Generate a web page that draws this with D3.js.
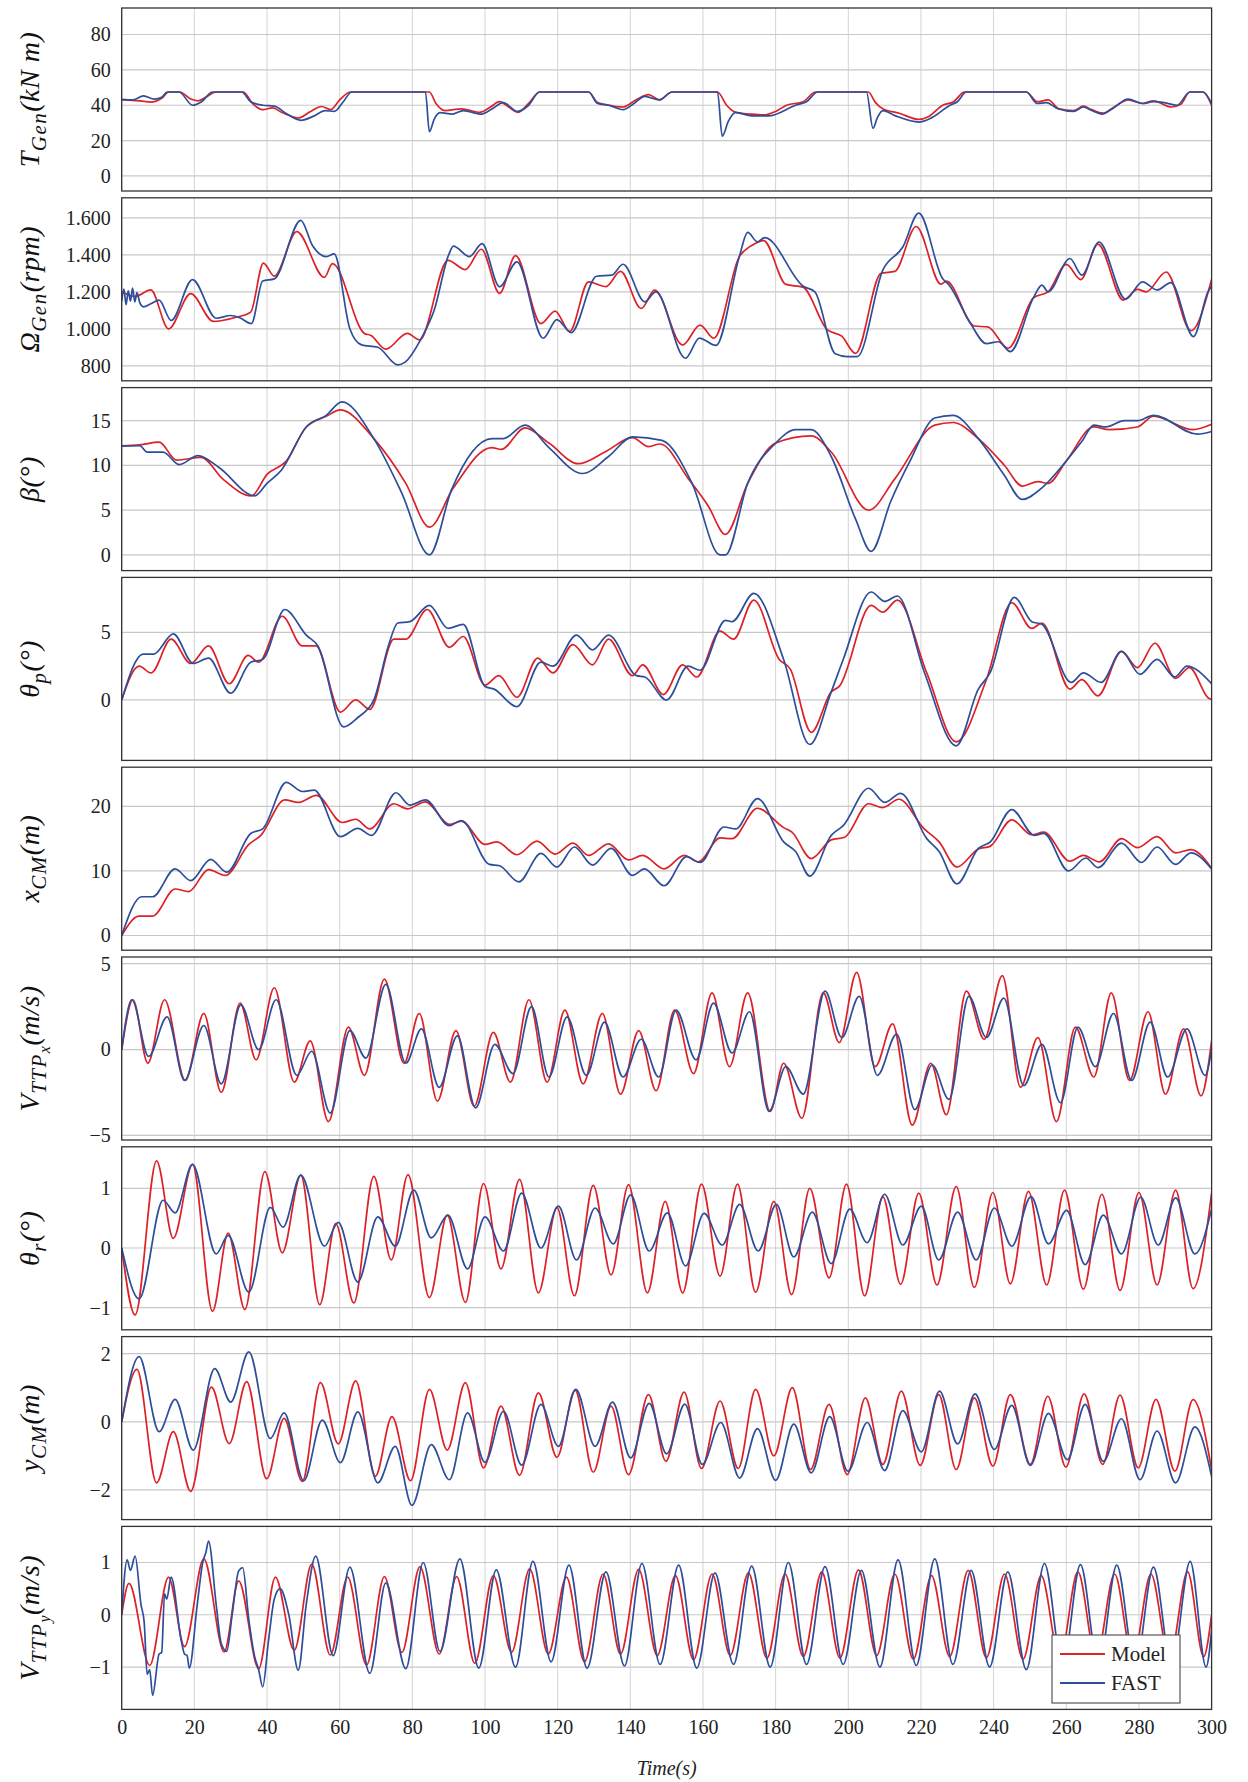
<!DOCTYPE html>
<html>
<head>
<meta charset="utf-8">
<script src="https://cdn.jsdelivr.net/npm/d3@7"></script>
<style>
  body { margin: 0; background: #fff; }
  svg { display: block; }
</style>
</head>
<body>
<div id="container"></div>
<script>
/**
 * CONSTANTS AND GLOBALS
 * */
const width = 1248,
  height = 1782,
  margin = { left: 121.7, right: 36.4 },
  panelTop0 = 8,
  panelStep = 189.8,
  panelHeight = 183;

const RED = "#dc2228",
  BLUE = "#2d4e9b";

const timeTicks = d3.range(0, 301, 20);

/**
 * DATA  ([time s, value] pairs)
 * */
const tgenModel = [[0,43],[3,42.8],[5,42.5],[8,41.8],[11,44],[13,47.5],[16,47.5],[19,43.5],[21,42.5],[23.5,45],[26,47.5],[33.5,47.5],[36,41],[38.8,37.5],[41.5,38.5],[44,36],[48.6,32.8],[52,36.5],[55,39.3],[57.5,37.5],[60,43],[63,47.5],[84.7,47.5],[86.5,41],[89,37],[93.5,38],[98.5,36],[101.5,39],[104,42],[106.5,39],[109,36],[112,41],[115,47.5],[128.5,47.5],[131,41.5],[133,40.5],[138,39],[141.5,43],[145,46],[148,43],[151.5,47.5],[164,47.5],[166.5,40],[169,36],[173,35],[176.7,34.5],[180,36.5],[183,40],[187.6,42],[191,47.5],[205.5,47.5],[207.5,41.5],[209.5,38],[214,35.5],[219.4,32],[222,33.5],[226,40],[229,42],[232,47.5],[249,47.5],[252,42],[255,43],[258,38],[262,37],[264.7,39.5],[267,37.5],[270,35.5],[273.5,39.5],[277,43],[281,41],[284,42.5],[289,39],[291.5,40.5],[294,47.5],[297.6,47.5],[300,40]];
const tgenFast = [[0,43.4],[3,43],[6,45.3],[9,43.5],[11,44.5],[12.5,47.5],[15.8,47.5],[19.5,40],[22,42],[25,47.5],[33,47.5],[35.5,42],[38.8,40],[42,39.5],[45.5,35],[49.3,31.5],[53,34],[56,37],[58.5,36.5],[61,42],[63.3,47.5],[83.6,47.5],[84.7,25],[86,32],[87.6,35.8],[91,35],[94,37],[99,35],[102,38],[105,41.5],[109,36.5],[112,40],[115,47.5],[128.5,47.5],[131,41],[134,40],[138,37.5],[141,41],[144,45],[148,43],[151.5,47.5],[164,47.5],[165.3,22.5],[167,31],[169,36],[173.4,34],[178,34],[185.5,40],[188.5,42],[191.6,47.5],[205,47.5],[206.8,27],[208,33],[209.5,37],[213,34],[219.4,30.5],[223,33],[228,40],[230,42],[232.5,47.5],[249,47.5],[252,41],[254.5,41.5],[257.7,38],[262,36.5],[264.7,39],[267,37],[269.8,35],[273,38.5],[277,43.5],[281,41],[284,42],[287,41.5],[290.5,40],[294,47.5],[297.6,47.5],[300,41]];

const omegaModel = [[0,1200],[3.7,1175],[8,1210],[12.9,1000],[19,1190],[25.2,1040],[31,1060],[35.5,1090],[39,1355],[42,1285],[48.2,1525],[55.8,1278],[58,1352],[66.8,975],[68.5,965],[72.7,890],[78.6,975],[82,940],[89.8,1370],[94.6,1320],[99,1430],[104,1192],[108.4,1396],[115.4,1028],[119.3,1096],[123.3,986],[128.5,1254],[133.3,1228],[137.3,1310],[143,1110],[146.7,1209],[154.4,913],[159.2,1020],[163,949],[170,1390],[173.4,1450],[176.7,1477],[182.8,1240],[187.5,1225],[194.2,995],[198.2,960],[202,867],[209,1300],[212.8,1310],[218.7,1553],[225.5,1241],[227,1258],[234.7,1015],[238.4,1010],[244,895],[251,1168],[255,1200],[260,1348],[264,1266],[268.7,1458],[275.7,1155],[279.6,1213],[282,1200],[287.5,1307],[294.3,990],[300,1266]];
const omegaFast = [[0,1150],[0.6,1215],[1.2,1130],[1.8,1205],[2.4,1150],[3,1220],[3.6,1145],[4.2,1195],[5,1140],[6,1119],[8,1135],[10.3,1155],[13.6,1045],[19.5,1266],[26,1057],[30,1072],[32.5,1060],[35.7,1028],[38.8,1258],[42,1270],[49.3,1586],[52.5,1450],[56.3,1390],[58.5,1405],[62.8,1000],[66,913],[70.5,900],[76,805],[78,820],[82.5,950],[86,1100],[90,1400],[91.3,1447],[95.7,1390],[99.2,1460],[104,1227],[108.8,1362],[116,949],[119.8,1050],[123.7,979],[130.7,1284],[134.9,1290],[138,1349],[144,1146],[147,1200],[155.2,841],[159,950],[163.6,910],[170,1390],[172.3,1521],[175,1470],[177,1493],[187.6,1230],[190.8,1200],[196.4,865],[199.7,850],[202.5,850],[209.5,1317],[215,1442],[219.4,1625],[226,1270],[227.6,1240],[233.6,1030],[238,920],[241.3,930],[244.6,877],[251,1170],[253.3,1236],[255,1200],[261,1380],[264.3,1290],[269,1469],[276.3,1160],[281,1254],[285,1210],[288.8,1250],[295,958],[299,1200],[300,1230]];

const betaModel = [[0,12.2],[5,12.3],[10.3,12.6],[15.1,10.6],[21.9,10.9],[27.8,8.5],[35.7,6.6],[40,9],[45.3,10.5],[50.8,14.3],[56.3,15.5],[60.2,16.2],[69.4,13],[78.2,8],[84.7,3.1],[91.3,7.5],[101.8,12],[104.5,11.8],[111,14.2],[117.6,12.5],[125.7,10.2],[133,11.5],[140.6,13.1],[145,12.1],[148.2,12.4],[156,8.5],[161.4,5.5],[166.2,2.3],[172.3,8],[180,12.5],[189.8,13.3],[195.3,11.5],[205.6,5],[212.8,8.5],[223.8,14.5],[228.8,14.8],[235.8,13],[243,10],[247.9,7.7],[252.2,8.2],[255,8],[260,10.5],[267.6,14.3],[271.9,14],[279.6,14.3],[284,15.5],[294.9,14],[300,14.6]];
const betaFast = [[0,12.15],[5,12.2],[7,11.5],[11.4,11.5],[15.8,10.1],[21,11.1],[26.7,9.8],[36.6,6.6],[40,8],[44,9.5],[50.8,14.3],[56.3,15.6],[60.6,17.1],[69.4,13],[77,7],[84.7,0],[90.8,7.3],[102,13],[105,13],[111,14.5],[117.6,12],[126.8,9.1],[134,11],[140.6,13.2],[148.7,12.8],[157,8],[164.7,0],[166.2,0],[172.3,8],[180,12.5],[185.5,14],[189.8,14],[195.3,11],[202,4],[206.3,0.4],[211.7,6],[217,10.5],[223.8,15.3],[228.8,15.6],[235.8,13],[242.8,9],[247.9,6.2],[253.3,7.5],[260,10.5],[264.3,12.7],[267.6,14.5],[270.9,14.3],[276,15],[279.6,15],[284,15.6],[296.1,13.5],[300,13.8]];

const pitchModel = [[0,0],[4.8,2.5],[8.1,2],[13.6,4.5],[19,2.7],[23.9,4],[29.6,1.2],[34.8,3.3],[37.7,2.8],[44.2,6.2],[49.7,4],[53.5,4],[60.2,-0.9],[64.4,0],[68.3,-0.7],[74.9,4.5],[78.2,4.5],[84.1,6.7],[90.2,3.9],[94,4.7],[100,1.1],[103.8,1.8],[108.8,0.2],[114.5,3.1],[118.7,2],[124.2,4.1],[129.6,2.6],[134,4.5],[140.6,1.8],[143.4,2.6],[149.1,0.4],[154.4,2.6],[158.3,1.7],[164.7,5.1],[168.4,4.5],[174,7.4],[181,3],[184,2.3],[189.8,-2.4],[195.3,0.6],[197.5,1],[206.3,7],[209.5,6.5],[213.5,7.4],[221.6,2],[229.7,-3.1],[238,1.5],[245,7.2],[250.5,5.3],[253.3,5.7],[261,0.8],[264.3,1.5],[268.7,0.3],[275.2,3.6],[279.6,2.4],[284.4,4.2],[290.1,1.6],[293.9,2.4],[299.3,0.1],[300,0.05]];
const pitchFast = [[0,0],[5.9,3.4],[8.8,3.4],[14.2,4.9],[19.7,2.7],[23.9,3.1],[30,0.5],[35.5,2.8],[38.8,3],[44.9,6.7],[50.8,4.8],[54,4],[61.1,-2],[65,-1.3],[69.4,0],[73.4,4],[76,5.7],[79.3,5.8],[84.7,7],[89.8,5.3],[94,5.6],[100,1],[102.5,0.8],[108.8,-0.5],[115.4,2.8],[118.7,2.5],[125.2,4.8],[129.6,3.7],[134,4.8],[141.7,1.8],[144,1.7],[150,0],[155.9,2.5],[159.2,2.2],[166.2,5.9],[168,5.8],[174,7.9],[182.2,3],[189.4,-3.3],[195.3,0.6],[198.6,3],[206.3,8],[210,7.3],[213.5,7.7],[221,2],[229.7,-3.4],[235.8,0.8],[239,2],[245.7,7.6],[250.5,5.8],[253.3,5.6],[261.4,1.3],[264.7,2],[269.6,1.3],[275.2,3.6],[280.3,1.9],[285,3],[289.9,1.7],[293.2,2.5],[300,1.2]];

const xcmModel = [[0,0],[4.8,3],[8.5,3],[14.7,7.2],[18.4,6.8],[23.9,10.2],[28.5,9.3],[35,14.1],[38.3,15.5],[44.9,21],[48.6,20.6],[53.6,21.7],[60.7,17.5],[64.4,18],[68.3,16.5],[74.9,20.4],[78.6,19.6],[83.6,20.7],[90.2,17.2],[93.5,17.7],[100,14.1],[103.3,14.5],[108.8,12.5],[114.3,14.6],[119.3,12.6],[124.2,14.3],[128.5,12.4],[134,14.2],[139.5,11.7],[143.4,12.4],[149.3,10.3],[154.8,12.4],[158.7,11.4],[164.7,15.1],[168,15],[175,19.7],[182.2,16.7],[184.5,16],[189.8,11.9],[195.3,14.8],[199,15.2],[205.6,20.4],[209.5,19.8],[213.9,21.1],[220.9,16.5],[225,14.5],[229.9,10.6],[235.8,13.4],[239,13.8],[245,17.9],[250.5,15.6],[253.8,16],[261,11.5],[264.7,12.4],[269.1,11.4],[275.2,15],[279.6,13.6],[285,15.3],[290.1,12.8],[294.3,13.3],[300,10.4]];
const xcmFast = [[0,0],[5.5,6],[8.5,6],[14.7,10.3],[19,8.5],[24.5,11.8],[28.9,9.8],[35.5,15.8],[38.8,16.5],[45.3,23.7],[49.7,22.3],[53,22.5],[60.2,15.3],[65,16.6],[68.8,15.5],[75.5,22.1],[79.3,20.2],[83.6,21],[90.2,17],[93.5,17.8],[101.2,11],[104,10.8],[109.3,8.3],[115.4,12.7],[119.8,10.6],[124.6,13.7],[129.6,10.9],[134.7,13.5],[140.6,9.3],[143.9,10.3],[149.3,7.7],[155.5,12.2],[159.2,11.3],[165.8,16.8],[169,16.5],[175,21.2],[182.2,14.5],[185.5,13],[189.4,9.2],[195.3,15.5],[198.6,17],[205.6,22.8],[210,20.6],[214.4,22],[221.6,15],[225,13],[229.9,8],[235.8,13.5],[239.1,14.5],[245,19.5],[251.2,15.5],[253.8,15.8],[260.6,10],[265.4,12],[268.7,10.5],[275.2,14.3],[280.7,11.3],[285,13.7],[290.1,11],[294.3,12.8],[300,10.3]];

const vxModel = [[0,0],[3.1,2.9],[7.2,-0.8],[11.8,2.9],[17.5,-1.8],[22.6,2.1],[27.4,-2.5],[32.6,2.7],[37,-0.6],[42,3.6],[47.5,-1.9],[51.9,0.5],[56.9,-4.2],[62.4,1.3],[66.8,-1.5],[72.3,4.1],[77.7,-0.8],[81.9,2.1],[86.9,-3],[92,1.1],[97,-3.3],[102.3,1],[107,-1.9],[112.1,2.9],[117.1,-1.9],[122,2.3],[127,-2],[132.3,2.1],[137.3,-2.6],[142.3,1.1],[147.1,-2.4],[152.2,2.3],[157.4,-1.4],[162.5,3.3],[167.3,-1],[172.3,3.3],[178.5,-3.6],[182.2,-0.8],[187.2,-4],[193.1,3.3],[197.5,0.4],[202.3,4.5],[207.4,-1],[212.2,1.5],[217.6,-4.4],[222.7,-0.8],[227,-3.8],[232.5,3.4],[237.4,0.6],[242.4,4.3],[247.4,-2.2],[252.2,0.7],[257.3,-4.2],[262.5,1.3],[267.6,-1.6],[272.4,3.3],[277.4,-1.8],[282.5,2.2],[287.3,-2.6],[292.3,1.2],[297.1,-2.7],[300,0.5]];
const vxFast = [[0,0],[2.8,2.9],[7.4,-0.4],[12.5,1.9],[17.3,-1.8],[22.6,1.4],[27.4,-2],[32.8,2.6],[37.7,0],[42.5,2.9],[48.2,-1.5],[52.3,-0.1],[57.4,-3.7],[62.8,1.1],[67.2,-0.5],[72.7,3.8],[78.2,-0.8],[82.5,1.2],[87.4,-2.2],[92.4,0.8],[97.4,-3.4],[102.7,0.3],[107.7,-1.4],[112.8,2.5],[117.6,-1.6],[122.6,1.9],[127.9,-1.5],[132.9,1.6],[138,-1.6],[143,0.6],[147.8,-1.6],[152.6,2.3],[158.1,-0.6],[162.9,2.7],[168,-0.2],[172.8,2.2],[178.2,-3.6],[182.8,-1],[187.6,-2.6],[193.6,3.4],[198.2,0.7],[203,3.1],[208,-1.5],[213.3,0.9],[218.3,-3.5],[223.1,-0.9],[227.7,-2.9],[233.2,3.1],[238,0.7],[242.8,3],[248.3,-2.1],[253.3,0.3],[258.4,-3.1],[263.2,1.3],[268,-1],[273,2.1],[278,-1.8],[283.1,1.6],[287.9,-1.6],[293.2,1.2],[298.2,-1.5],[300,0]];

const rollModel = [[0,0],[3.7,-1.12],[9.6,1.46],[14.2,0.16],[19.5,1.4],[25,-1.06],[29.3,0.25],[33.9,-1.03],[39.4,1.28],[44.2,-0.08],[49.3,1.22],[54.5,-0.95],[58.9,0.41],[63.9,-0.92],[69.4,1.2],[74.2,-0.2],[78.8,1.23],[84.7,-0.83],[89.6,0.55],[94.6,-0.91],[99.6,1.08],[104.4,-0.35],[109.5,1.15],[114.7,-0.75],[119.8,0.68],[124.6,-0.8],[129.8,1.05],[134.7,-0.45],[139.5,1.06],[144.7,-0.75],[149.6,0.78],[154.4,-0.75],[159.6,1.07],[164.7,-0.47],[169.5,1.07],[174.5,-0.74],[179.5,0.78],[184.4,-0.78],[189.4,1.0],[194.7,-0.5],[199.5,1.07],[204.5,-0.8],[209.5,0.86],[214.4,-0.61],[219.4,0.92],[224.4,-0.62],[229.7,1.03],[234.7,-0.66],[239.8,0.93],[244.6,-0.6],[249.6,0.95],[254.6,-0.62],[259.5,0.97],[264.7,-0.69],[269.8,0.9],[274.8,-0.71],[280,0.93],[285,-0.62],[290.1,0.97],[294.9,-0.68],[300,0.92]];
const rollFast = [[0,0],[4.8,-0.85],[11.4,0.8],[14.7,0.59],[19.5,1.4],[26,-0.1],[29.3,0.21],[35,-0.74],[40.9,0.68],[44.4,0.35],[49.3,1.22],[55.8,0.03],[59.6,0.43],[65,-0.57],[70.5,0.52],[75.3,0.03],[80.4,0.97],[85.2,0.17],[89.8,0.55],[95.2,-0.35],[100,0.52],[105.1,-0.05],[110.1,0.92],[115.4,0],[120.2,0.7],[125.2,-0.2],[130.3,0.67],[135.3,0.07],[140.1,0.89],[145.2,-0.05],[150.2,0.59],[155.2,-0.3],[160.3,0.58],[165.3,0.05],[170.1,0.73],[175.2,-0.05],[180.2,0.73],[185,-0.15],[190.1,0.6],[195.3,-0.26],[200.4,0.65],[205.2,0.09],[210,0.9],[215,0.05],[220.1,0.7],[224.9,-0.2],[230.1,0.6],[235.2,-0.2],[240.2,0.67],[245,0.03],[250.3,0.86],[255.1,0.07],[260.1,0.63],[265.2,-0.28],[270.2,0.55],[275.2,-0.1],[280.5,0.85],[285.3,0.05],[290.1,0.84],[295.4,-0.1],[300,0.65]];

const ycmModel = [[0,0],[4.2,1.54],[9.6,-1.79],[14.2,-0.29],[19,-2.04],[24.7,1.02],[29.6,-0.64],[34.4,1.18],[39.9,-1.67],[44.7,0.1],[49.7,-1.75],[54.7,1.15],[59.6,-0.65],[64.4,1.2],[69.8,-1.6],[74.4,0.15],[79.5,-1.73],[84.7,0.95],[89.6,-0.83],[94.6,1.15],[99.6,-1.35],[104.4,0.46],[109.5,-1.57],[114.7,0.85],[119.8,-1.04],[124.8,0.93],[129.8,-1.48],[134.7,0.46],[139.5,-1.55],[145,0.8],[149.8,-1.16],[154.8,0.87],[159.6,-1.37],[164.7,0.61],[169.7,-1.37],[174.5,0.95],[179.5,-1.0],[184.6,1.0],[189.6,-1.4],[194.7,0.51],[199.7,-1.55],[204.7,0.7],[209.5,-1.25],[214.6,0.9],[219.8,-1.28],[224.9,0.8],[229.7,-1.4],[234.7,0.7],[239.8,-1.3],[244.6,0.8],[250.1,-1.25],[254.9,0.75],[259.9,-1.33],[264.9,0.82],[270,-1.25],[274.8,0.78],[279.8,-1.35],[284.7,0.66],[289.9,-1.45],[294.9,0.65],[300,-1.4]];
const ycmFast = [[0,0],[4.8,1.91],[10.3,-0.29],[14.7,0.66],[19.7,-0.83],[25.6,1.56],[30,0.58],[35,2.05],[40.9,-0.49],[44.7,0.26],[50.1,-1.73],[55.2,0.05],[60.2,-1.2],[65,0.29],[70.5,-1.79],[75.3,-0.72],[79.9,-2.45],[85.2,-0.67],[90.2,-1.7],[95.2,0.26],[100,-1.19],[105.1,0.31],[110.1,-1.27],[115.4,0.51],[120.2,-0.72],[125,0.95],[130.3,-0.72],[135.1,0.58],[140.1,-1.06],[145.2,0.54],[150,-0.94],[155,0.52],[159.8,-1.25],[164.9,-0.02],[170.1,-1.65],[175,-0.2],[180,-1.72],[185,-0.07],[189.8,-1.5],[194.9,0.15],[199.9,-1.45],[205.2,-0.02],[210,-1.43],[215,0.33],[220.1,-0.88],[225.1,0.9],[230.1,-0.65],[234.9,0.82],[240.2,-0.81],[245,0.48],[250.1,-1.28],[255.1,0.25],[260.3,-1.11],[265.2,0.51],[270.2,-1.16],[275.2,0.09],[280.3,-1.7],[285,-0.27],[290.1,-1.79],[295.4,-0.15],[300,-1.6]];

const vyModel = [[0,0],[2,0.6],[7.7,-0.97],[12.9,0.72],[17.3,-0.61],[22.6,1.07],[28.2,-0.71],[32.2,0.65],[37.7,-1.03],[42.3,0.72],[47.5,-0.68],[52.3,0.97],[57.4,-0.77],[62.2,0.72],[67.4,-0.96],[72.3,0.73],[77.1,-0.72],[82.1,0.92],[87.4,-0.75],[92.2,0.73],[97.2,-0.93],[102.3,0.75],[107.3,-0.72],[112.3,0.88],[117.4,-0.75],[122.4,0.72],[127.4,-0.9],[132.5,0.78],[137.3,-0.75],[142.3,0.87],[147.4,-0.78],[152.4,0.75],[157.4,-0.86],[162.5,0.78],[167.5,-0.78],[172.5,0.8],[177.6,-0.83],[182.6,0.78],[187.6,-0.8],[192.7,0.82],[197.7,-0.83],[202.8,0.86],[207.8,-0.78],[212.8,0.78],[217.9,-0.85],[222.9,0.75],[227.9,-0.8],[233,0.85],[238,-0.82],[243,0.78],[248.1,-0.85],[253.1,0.75],[258.2,-0.85],[263.2,0.82],[268.2,-0.83],[273.3,0.78],[278.3,-0.85],[283.3,0.78],[288.4,-0.85],[293.4,0.82],[297.8,-0.8],[300,0]];
const vyFast = [[0,0],[1.5,1.05],[2.4,0.85],[3.7,1.12],[5.3,0.2],[6.2,-0.15],[7,-1.14],[7.7,-1.05],[8.5,-1.54],[10.3,-0.75],[11,-0.72],[11.8,0.4],[12.4,0.3],[13.6,0.72],[16.4,-0.5],[17.3,-0.75],[18,-0.78],[18.6,-1.02],[20.8,0.2],[22.3,1.0],[23.2,1.2],[23.9,1.41],[26,0.2],[27.4,-0.55],[28.9,-0.7],[30.4,0],[32.2,0.84],[33.3,0.9],[35,-0.1],[36.6,-0.8],[37.7,-1.05],[38.8,-1.38],[40.4,-0.5],[42,0.3],[43.6,0.5],[46,0],[48.6,-1.06],[50.8,0.2],[53.4,1.12],[58.2,-0.78],[62.8,0.91],[68.3,-1.12],[72.7,0.61],[78.2,-1.03],[83,1.0],[87.6,-0.7],[93.1,1.07],[98.3,-1.02],[103.1,0.86],[108.4,-1.0],[113.2,1.02],[118.2,-0.9],[123.1,0.95],[128.1,-1.02],[133.3,0.82],[138.4,-0.98],[143.2,0.98],[148.2,-0.95],[153.3,0.95],[158.3,-1.02],[163.3,0.8],[168.4,-0.95],[173.4,0.93],[178.5,-1.0],[183.5,1.0],[188.5,-0.95],[193.6,0.92],[198.6,-0.95],[203.6,0.85],[208.7,-1.0],[213.7,1.05],[218.7,-0.97],[223.8,1.07],[228.8,-0.95],[233.8,0.85],[238.9,-1.0],[243.9,0.82],[249,-1.05],[254,0.98],[259,-1.0],[263.9,0.96],[268.9,-1.0],[273.9,0.95],[279,-1.0],[284,0.91],[289,-1.0],[294.1,1.02],[298.5,-1.0],[300,-0.3]];

// y-axis labels: [text, level] with level 0 = normal, 1 = subscript, 2 = sub-subscript
const panels = [
  { model: tgenModel, fast: tgenFast, domain: [-8.5, 95], ticks: [0, 20, 40, 60, 80],
    label: [["T", 0], ["Gen", 1], ["(kN m)", 0]] },
  { model: omegaModel, fast: omegaFast, domain: [719, 1708], ticks: [800, 1000, 1200, 1400, 1600],
    label: [["Ω", 0], ["Gen", 1], ["(rpm)", 0]] },
  { model: betaModel, fast: betaFast, domain: [-1.75, 18.7], ticks: [0, 5, 10, 15],
    label: [["β(°)", 0]] },
  { model: pitchModel, fast: pitchFast, domain: [-4.48, 9.08], ticks: [0, 5],
    label: [["θ", 0], ["p", 1], ["(°)", 0]] },
  { model: xcmModel, fast: xcmFast, domain: [-2.28, 26.06], ticks: [0, 10, 20],
    label: [["x", 0], ["CM", 1], ["(m)", 0]] },
  { model: vxModel, fast: vxFast, domain: [-5.27, 5.39], ticks: [-5, 0, 5],
    label: [["V", 0], ["TTP", 1], ["x", 2], ["(m/s)", 0]] },
  { model: rollModel, fast: rollFast, domain: [-1.37, 1.695], ticks: [-1, 0, 1],
    label: [["θ", 0], ["r", 1], ["(°)", 0]] },
  { model: ycmModel, fast: ycmFast, domain: [-2.87, 2.5], ticks: [-2, 0, 2],
    label: [["y", 0], ["CM", 1], ["(m)", 0]] },
  { model: vyModel, fast: vyFast, domain: [-1.81, 1.69], ticks: [-1, 0, 1],
    label: [["V", 0], ["TTP", 1], ["y", 2], ["(m/s)", 0]] },
];

const legendItems = [["Model", RED], ["FAST", BLUE]];

/**
 * DRAW
 * */
const numFmt = d3.formatLocale({ decimal: ",", thousands: ".", grouping: [3], currency: ["", ""] }).format(",d");

const svg = d3.select("#container")
  .append("svg")
  .attr("width", width)
  .attr("height", height)
  .style("font-family", "'Liberation Serif', 'DejaVu Serif', serif");

const xScale = d3.scaleLinear()
  .domain([0, 300])
  .range([margin.left, width - margin.right]);

panels.forEach((p, i) => {
  const top = panelTop0 + i * panelStep;
  const yScale = d3.scaleLinear().domain(p.domain).range([top + panelHeight, top]);
  const g = svg.append("g").attr("class", "panel");

  g.append("clipPath").attr("id", "clip" + i)
    .append("rect")
    .attr("x", xScale(0)).attr("y", top)
    .attr("width", xScale(300) - xScale(0)).attr("height", panelHeight);

  // grid
  g.append("g").selectAll("line.vgrid")
    .data(timeTicks)
    .join("line")
    .attr("x1", d => xScale(d)).attr("x2", d => xScale(d))
    .attr("y1", top).attr("y2", top + panelHeight)
    .attr("stroke", "#d4d4d4").attr("stroke-width", 1);

  g.append("g").selectAll("line.hgrid")
    .data(p.ticks)
    .join("line")
    .attr("x1", xScale(0)).attr("x2", xScale(300))
    .attr("y1", d => yScale(d)).attr("y2", d => yScale(d))
    .attr("stroke", "#c8c8c8").attr("stroke-width", 1.2);

  // y axis labels
  const yAxis = d3.axisLeft(yScale)
    .tickValues(p.ticks)
    .tickSize(0)
    .tickPadding(11)
    .tickFormat(numFmt);
  const ya = g.append("g")
    .attr("transform", `translate(${xScale(0)},0)`)
    .call(yAxis);
  ya.select(".domain").remove();
  ya.selectAll("text")
    .attr("font-family", "'Liberation Serif', serif")
    .attr("font-size", 20)
    .attr("fill", "#222");

  // series
  const line = d3.line()
    .x(d => xScale(d[0]))
    .y(d => yScale(d[1]))
    .curve(d3.curveMonotoneX);

  const series = g.append("g").attr("clip-path", `url(#clip${i})`);
  series.append("path")
    .datum(p.model)
    .attr("d", line)
    .attr("fill", "none")
    .attr("stroke", RED)
    .attr("stroke-width", 1.7)
    .attr("stroke-linejoin", "round");
  series.append("path")
    .datum(p.fast)
    .attr("d", line)
    .attr("fill", "none")
    .attr("stroke", BLUE)
    .attr("stroke-width", 1.7)
    .attr("stroke-linejoin", "round");

  // frame
  g.append("rect")
    .attr("x", xScale(0)).attr("y", top)
    .attr("width", xScale(300) - xScale(0)).attr("height", panelHeight)
    .attr("fill", "none")
    .attr("stroke", "#333")
    .attr("stroke-width", 1.3);

  // rotated label
  const label = g.append("text")
    .attr("transform", `translate(39,${top + panelHeight / 2}) rotate(-90)`)
    .attr("text-anchor", "middle")
    .attr("font-style", "italic")
    .attr("font-size", 28)
    .attr("fill", "#111");
  let level = 0;
  const shift = [0, 7, 11];
  const sizes = [28, 21, 16];
  p.label.forEach(([txt, lv]) => {
    label.append("tspan")
      .attr("dy", shift[lv] - shift[level])
      .attr("font-size", sizes[lv])
      .attr("letter-spacing", lv === 1 ? 1.5 : 0.5)
      .text(txt);
    level = lv;
  });

  // x axis on last panel
  if (i === panels.length - 1) {
    const xAxis = d3.axisBottom(xScale)
      .tickValues(timeTicks)
      .tickSize(0)
      .tickPadding(10);
    const xa = g.append("g")
      .attr("transform", `translate(0,${top + panelHeight})`)
      .call(xAxis);
    xa.select(".domain").remove();
    xa.selectAll("text")
      .attr("font-family", "'Liberation Serif', serif")
      .attr("font-size", 20)
      .attr("fill", "#222");

    svg.append("text")
      .attr("x", (xScale(0) + xScale(300)) / 2)
      .attr("y", top + panelHeight + 66)
      .attr("text-anchor", "middle")
      .attr("font-style", "italic")
      .attr("font-size", 20)
      .attr("fill", "#222")
      .text("Time(s)");

    // legend
    const lg = g.append("g").attr("transform", "translate(1052,1635)");
    lg.append("rect")
      .attr("width", 128).attr("height", 68)
      .attr("fill", "#fff")
      .attr("stroke", "#555")
      .attr("stroke-width", 1.2);
    lg.selectAll("g.item")
      .data(legendItems)
      .join("g")
      .attr("transform", (d, k) => `translate(0,${19 + k * 29})`)
      .each(function ([name, color]) {
        const it = d3.select(this);
        it.append("line")
          .attr("x1", 8).attr("x2", 53)
          .attr("stroke", color).attr("stroke-width", 2);
        it.append("text")
          .attr("x", 59)
          .attr("dy", "0.35em")
          .attr("font-size", 21)
          .attr("fill", "#222")
          .text(name);
      });
  }
});
</script>
</body>
</html>
